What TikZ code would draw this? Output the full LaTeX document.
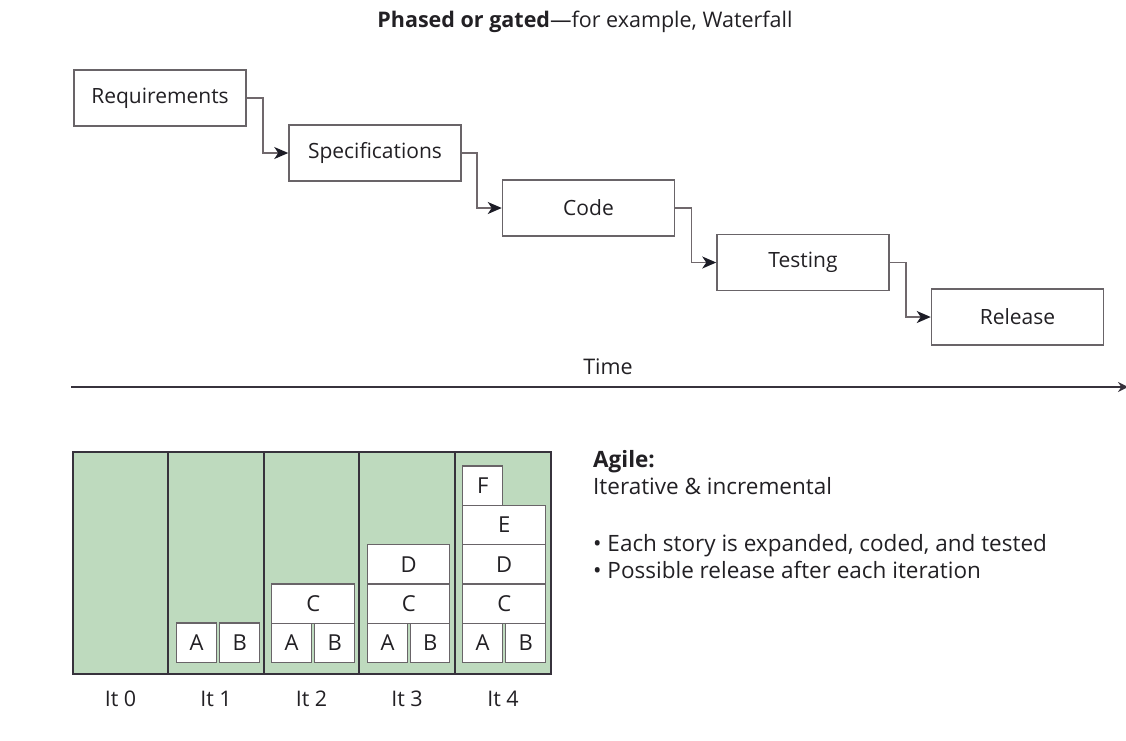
\documentclass[tikz,border=0pt]{standalone}
\usepackage{fontspec}
\setmainfont{Open Sans}
\usetikzlibrary{arrows.meta}
\definecolor{ink}{RGB}{34,32,36}
\definecolor{frame}{RGB}{105,100,104}
\definecolor{wire}{RGB}{112,104,108}
\definecolor{tip}{RGB}{28,28,38}
\definecolor{axisc}{RGB}{55,50,60}
\definecolor{sage}{RGB}{190,218,190}
\tikzset{
  phase/.style={draw=frame, line width=1.5pt, fill=white, minimum width=172pt,
    minimum height=56pt, inner sep=0pt, text=ink, font=\fontsize{21}{25}\selectfont},
  conn/.style={draw=wire, line width=1.5pt,
    -{Stealth[length=14pt,width=12pt,inset=4pt,color=tip]}},
  story/.style={draw=frame, line width=1.4pt, fill=white, inner sep=0pt,
    minimum height=39.3pt, text=ink, font=\fontsize{22}{26}\selectfont, anchor=south west},
  lbl/.style={text=ink, font=\fontsize{21.5}{26}\selectfont, inner sep=0pt},
  note/.style={text=ink, font=\fontsize{22.5}{27}\selectfont, inner sep=0pt, anchor=base west},
  divider/.style={draw=axisc, line width=1.6pt},
}
\begin{document}
\begin{tikzpicture}[x=1pt, y=-1pt]
\useasboundingbox (0,0) rectangle (1126,740);

% heading
\node[lbl, anchor=base] (title) at (585,27)
  {\textbf{Phased or gated}---for example, Waterfall};

% waterfall phases
\node[phase] (req)  at (160,98)    {Requirements};
\node[phase] (spec) at (375,153)   {Specifications};
\node[phase] (code) at (588.5,208) {Code};
\node[phase] (test) at (803,262.5) {Testing};
\node[phase] (rel)  at (1017.5,317){Release};

\draw[conn] (req.east)  -- ++(16,0) |- (spec.west);
\draw[conn] (spec.east) -- ++(15,0) |- (code.west);
\draw[conn] (code.east) -- ++(16,0) |- (test.west);
\draw[conn] (test.east) -- ++(16,0) |- (rel.west);

% time axis
\coordinate (t0) at (71,387);
\coordinate (t1) at (1128,387);
\draw[draw=axisc, line width=2.8pt, -{Stealth[length=10pt,width=10pt]}] (t0) -- (t1);
\node[lbl, anchor=base] (time) at (608,374) {Time};

% iterations panel
\draw[draw=axisc, line width=1.6pt, fill=sage] (73,452) rectangle (551,674);
\foreach \x in {168,264,359,455} \draw[divider] (\x,452) -- (\x,674);

% It 1
\node[story, minimum width=40pt] (a1) at (176,663) {A};
\node[story, minimum width=40pt] (b1) at (219,663) {B};
% It 2
\node[story, minimum width=40pt] (a2) at (271,663) {A};
\node[story, minimum width=40pt] (b2) at (314,663) {B};
\node[story, minimum width=83pt] (c2) at (271,624) {C};
% It 3
\node[story, minimum width=40pt] (a3) at (367,663) {A};
\node[story, minimum width=39pt] (b3) at (410,663) {B};
\node[story, minimum width=82pt] (c3) at (367,624) {C};
\node[story, minimum width=82pt] (d3) at (367,584.7) {D};
% It 4
\node[story, minimum width=40pt] (a4) at (462,663) {A};
\node[story, minimum width=40pt] (b4) at (505,663) {B};
\node[story, minimum width=83pt] (c4) at (462,624) {C};
\node[story, minimum width=83pt] (d4) at (462,584.7) {D};
\node[story, minimum width=83pt] (e4) at (462,545.4) {E};
\node[story, minimum width=40pt] (f4) at (462,506.1) {F};

% iteration labels
\node[lbl, anchor=base] (it0) at (120.5,706) {It 0};
\node[lbl, anchor=base] (it1) at (216,706)   {It 1};
\node[lbl, anchor=base] (it2) at (311.5,706) {It 2};
\node[lbl, anchor=base] (it3) at (407,706)   {It 3};
\node[lbl, anchor=base] (it4) at (503,706)   {It 4};

% agile notes
\node[note] (ag1) at (593,467) {\textbf{Agile:}};
\node[note] (ag2) at (593,494) {Iterative \& incremental};
\node[note] (ag3) at (593,551) {\textbullet\ Each story is expanded, coded, and tested};
\node[note] (ag4) at (593,578) {\textbullet\ Possible release after each iteration};
\end{tikzpicture}
\end{document}
